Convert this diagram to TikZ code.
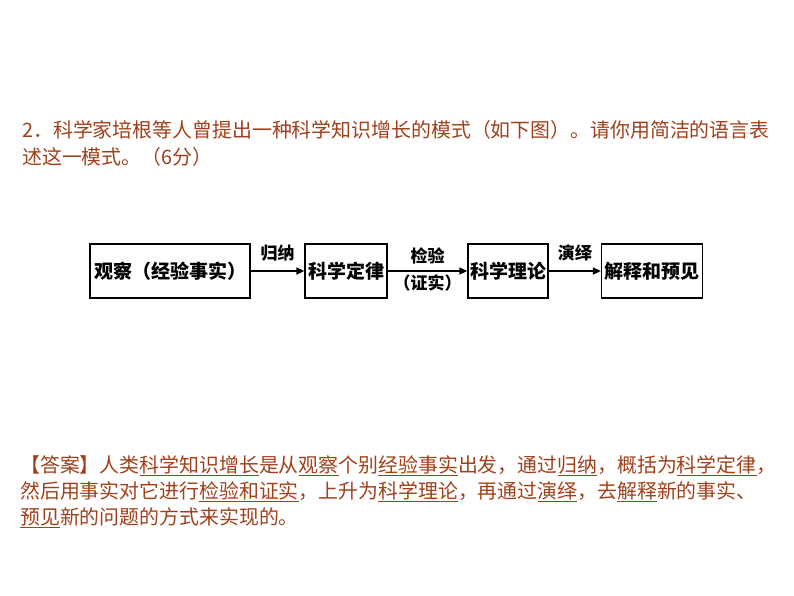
\documentclass[tikz,border=0pt]{standalone}
\usepackage{fontspec}
\setmainfont{Noto Sans CJK SC}
\usetikzlibrary{arrows.meta,positioning}
\definecolor{ansbrown}{HTML}{A0401A}
\newcommand{\ansul}[1]{\underline{#1}}

\begin{document}
\begin{tikzpicture}[x=1pt, y=-1pt, >={Triangle[length=8pt,width=7pt]},
    stage/.style={draw, line width=1.3pt, minimum height=54pt, inner sep=1pt, font=\fontsize{19}{19}\selectfont\bfseries},
    flow/.style={->, line width=1.5pt},
    lbl/.style={font=\fontsize{17}{17}\selectfont\bfseries, inner sep=1pt},
    para/.style={anchor=north west, align=left, text=ansbrown, inner sep=0pt}]
    \useasboundingbox (0,0) rectangle (794,596);

    % Question
    \node (q) at (22,120) [para, font=\fontsize{19.9}{27}\selectfont] {2．科学家培根等人曾提出一种科学知识增长的模式（如下图）。请你用简洁的语言表\\述这一模式。（6分）};

    % Stages
    \node (obs) at (170,271) [stage, minimum width=160pt] {观察（经验事实）};
    \node (law) at (346,271) [stage, minimum width=82pt] {科学定律};
    \node (thy) at (508,271) [stage, minimum width=80pt] {科学理论};
    \node (pre) at (652,271) [stage, minimum width=101pt] {解释和预见};

    % Arrows
    \draw[flow] (obs) -- (law) node[midway, above=8pt, lbl] {归纳};
    \draw[flow] (law) -- (thy) node[midway, above=5pt, lbl] {检验}
                              node[midway, below=2pt, lbl] {（证实）};
    \draw[flow] (thy) -- (pre) node[midway, above=8pt, lbl] {演绎};

    % Answer
    \node (ans) at (20,455) [para, font=\fontsize{19.9}{26}\selectfont] {【答案】人类\ansul{科学知识增长}是从\ansul{观察}个别\ansul{经验事实}出发，通过\ansul{归纳}，概括为\ansul{科学定律}，\\然后用事实对它进行\ansul{检验和证实}，上升为\ansul{科学理论}，再通过\ansul{演绎}，去\ansul{解释}新的事实、\\\ansul{预见}新的问题的方式来实现的。};
\end{tikzpicture}
\end{document}
